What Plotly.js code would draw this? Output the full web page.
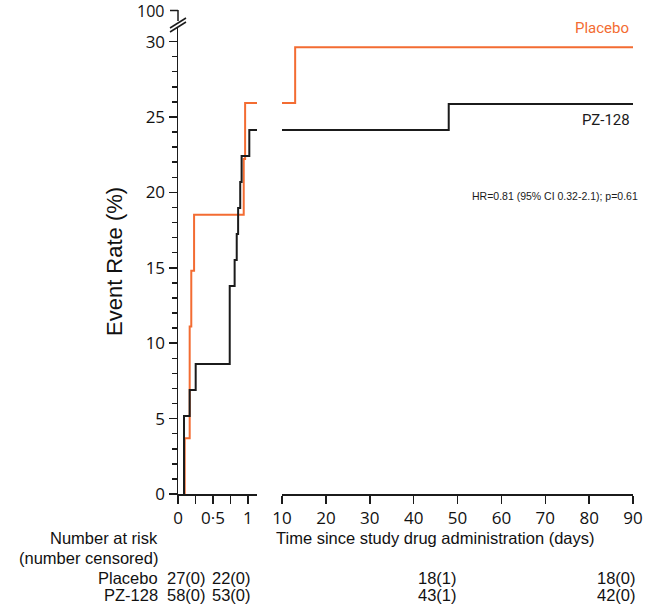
<!DOCTYPE html>
<html>
<head>
<meta charset="utf-8">
<script src="https://cdn.plot.ly/plotly-3.0.1.min.js"></script>
<style>
  html, body { margin: 0; padding: 0; background: #fff; }
  #chart { width: 666px; height: 607px; }
</style>
</head>
<body>
<div id="chart"></div>
<script>
// early phase (first ~day), cumulative event rate %
const placeboDaysEarly = [0.096, 0.096, 0.167, 0.19, 0.23, 0.94, 0.96, 1.13];
const placeboRateEarly = [0, 3.70, 11.11, 14.81, 18.52, 22.22, 25.93, 25.93];
const pzDaysEarly = [0.086, 0.086, 0.167, 0.253, 0.74, 0.81, 0.84, 0.86, 0.89, 0.91, 1.02, 1.13];
const pzRateEarly = [0, 5.17, 6.90, 8.62, 13.79, 15.52, 17.24, 18.97, 20.69, 22.41, 24.14, 24.14];

// day 10 to 90
const placeboDaysLate = [10, 13, 90];
const placeboRateLate = [25.93, 29.63, 29.63];
const pzDaysLate = [10, 48, 90];
const pzRateLate = [24.14, 25.86, 25.86];

const earlyTicks = [0, 0.25, 0.5, 0.75, 1];
const earlyTickText = ['0', '', '0·5', '', '1'];
const lateTicks = [10, 20, 30, 40, 50, 60, 70, 80, 90];
const yTicks = [0, 5, 10, 15, 20, 25, 30];
const yBreakLabel = '100';

// number at risk (number censored)
const riskGroups = ['Placebo', 'PZ-128'];
const riskPlacebo = ['27(0)', '22(0)', '18(1)', '18(0)'];
const riskPZ = ['58(0)', '53(0)', '43(1)', '42(0)'];

const orange = '#f36c32';
const black = '#1b1b1b';
const tickFont = {family: 'Open Sans, sans-serif', size: 17, color: '#111'};
const txtFont = {family: 'Liberation Sans, Arial, sans-serif', size: 16.5, color: '#111'};

// pixel helpers for the fixed 666x607 canvas
const L = 178, R = 633, T = 6, B = 494;
const px = v => (v - L) / (R - L);
const py = v => (B - v) / (B - T);

const line = (x, y, color, xa) => ({
  x: x, y: y, xaxis: xa, yaxis: 'y', type: 'scatter', mode: 'lines',
  line: {shape: 'hv', color: color, width: 2},
  hoverinfo: 'skip', showlegend: false
});

const traces = [
  line(placeboDaysEarly, placeboRateEarly, orange, 'x'),
  line(pzDaysEarly, pzRateEarly, black, 'x'),
  line(placeboDaysLate, placeboRateLate, orange, 'x2'),
  line(pzDaysLate, pzRateLate, black, 'x2')
];

const axisBase = {
  showline: true, linecolor: black, linewidth: 1.5,
  ticks: 'outside', ticklen: 8, tickwidth: 1.5, tickcolor: black,
  showgrid: false, zeroline: false, tickfont: tickFont, fixedrange: true
};

const annotations = [];
const ann = (text, x, y, xanchor, font) => annotations.push({
  text: text, x: x, y: y, xref: 'paper', yref: 'paper',
  xanchor: xanchor, yanchor: 'middle', showarrow: false, font: font
});

ann('Event Rate (%)', px(114), py(262), 'center', {family: 'Liberation Sans, Arial, sans-serif', size: 22, color: '#111'});
annotations[annotations.length - 1].textangle = -90;
ann('Placebo', px(631), py(28), 'right', {family: 'Roboto, sans-serif', size: 15, color: orange});
ann('PZ-128', px(632), py(120), 'right', {family: 'Roboto, sans-serif', size: 15, color: black});
ann('HR=0.81 (95% CI 0.32-2.1); p=0.61', px(640), py(196), 'right', {family: 'Liberation Sans, Arial, sans-serif', size: 10.5, color: black});
ann(yBreakLabel, px(166), py(11), 'right', {family: 'Open Sans, sans-serif', size: 16, color: '#111'});

ann('Number at risk', px(160), py(538), 'right', txtFont);
ann('(number censored)', px(160), py(558), 'right', txtFont);
ann('Time since study drug administration (days)', px(435), py(538), 'center', txtFont);
const colX = [186, 231, 437, 616];
ann(riskGroups[0], px(160), py(578), 'right', txtFont);
ann(riskGroups[1], px(160), py(595), 'right', txtFont);
riskPlacebo.forEach((t, i) => ann(t, px(colX[i]), py(578), 'center', txtFont));
riskPZ.forEach((t, i) => ann(t, px(colX[i]), py(595), 'center', txtFont));

// axis break marks and the short top segment of the y axis
const seg = (x0, y0, x1, y1) => ({
  type: 'line', xref: 'paper', yref: 'paper',
  x0: px(x0), y0: py(y0), x1: px(x1), y1: py(y1),
  line: {color: black, width: 1.5}
});
const shapes = [
  seg(170, 28, 186, 18),
  seg(170, 32, 186, 22),
  seg(178, 10, 178, 21),
  seg(170, 10.5, 178, 10.5)
];

const layout = {
  width: 666, height: 607,
  margin: {l: L, r: 666 - R, t: T, b: 607 - B},
  paper_bgcolor: '#fff', plot_bgcolor: '#fff',
  showlegend: false,
  xaxis: Object.assign({}, axisBase, {
    domain: [0, px(257)], range: [0, 1.13], anchor: 'y',
    tickvals: earlyTicks, ticktext: earlyTickText
  }),
  xaxis2: Object.assign({}, axisBase, {
    domain: [px(282), 1], range: [10, 90], anchor: 'y',
    tickvals: lateTicks
  }),
  yaxis: Object.assign({}, axisBase, {
    domain: [0, py(28)], range: [0, 30.9], anchor: 'x',
    tickvals: yTicks,
    minor: {dtick: 1, ticks: 'outside', ticklen: 5, tickwidth: 1.5, tickcolor: black}
  }),
  annotations: annotations,
  shapes: shapes
};

Plotly.newPlot('chart', traces, layout, {displayModeBar: false, staticPlot: true});
</script>
</body>
</html>
